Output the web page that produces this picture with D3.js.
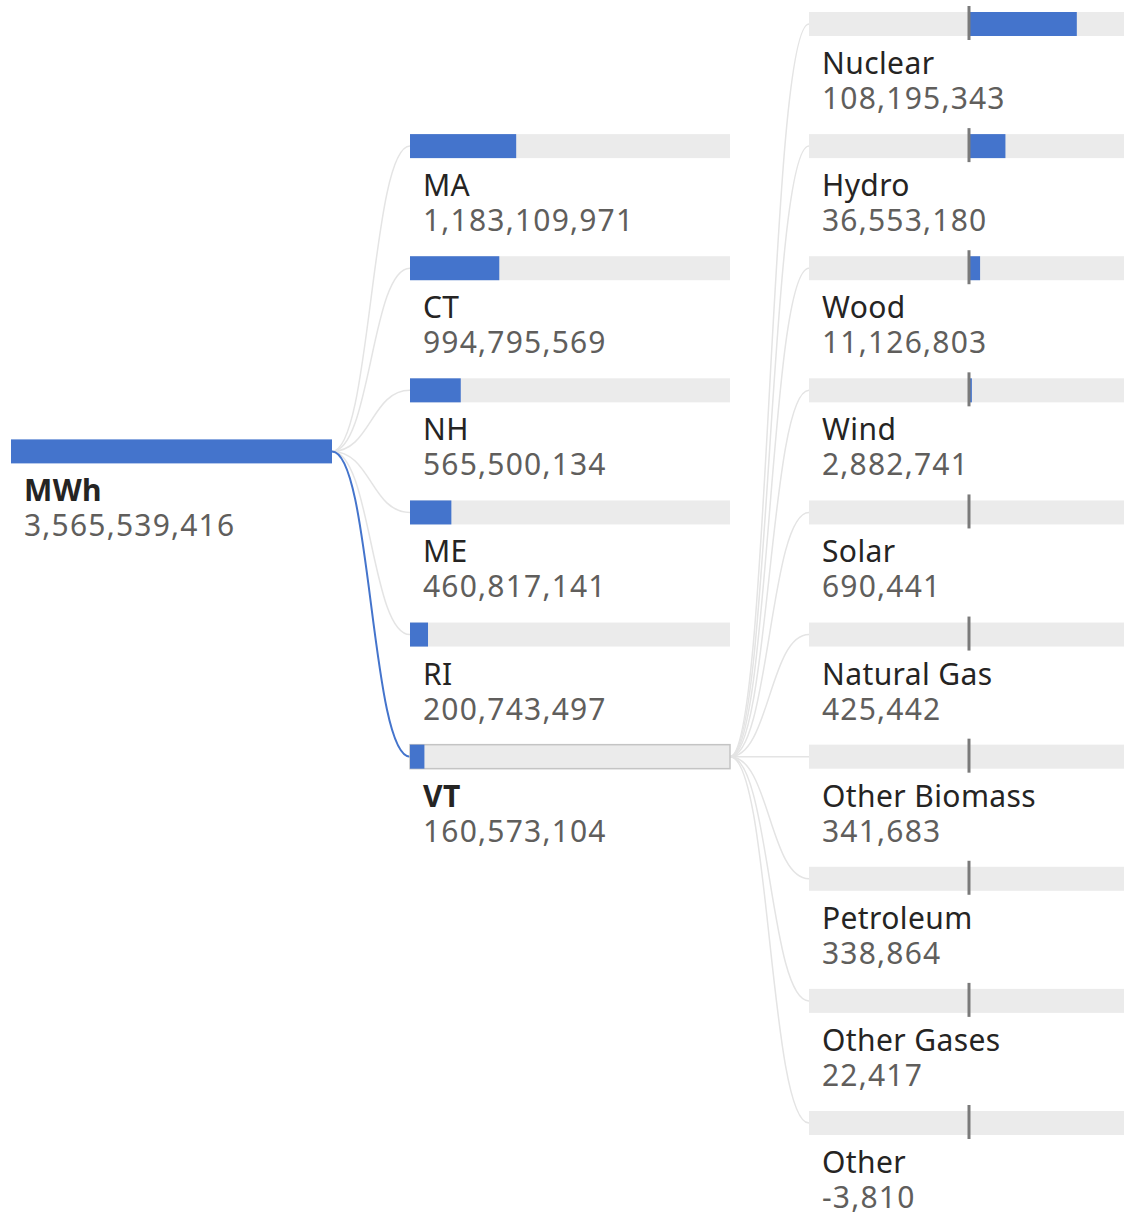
<!DOCTYPE html>
<html>
<head>
<meta charset="utf-8">
<script src="https://cdn.jsdelivr.net/npm/d3@7"></script>
<style>
  body { margin: 0; background: #fff; }
  svg { display: block; font-family: "Noto Sans", "Open Sans", sans-serif; }
</style>
</head>
<body>
<svg id="tree" width="1124" height="1216"></svg>
<script>
// root measure
const rootName = "MWh";
const rootValue = 3565539416;

// level 2 - states
const states = ["MA", "CT", "NH", "ME", "RI", "VT"];
const stateValues = [1183109971, 994795569, 565500134, 460817141, 200743497, 160573104];
const selectedState = "VT";

// level 3 - fuel type for the selected state
const fuels = ["Nuclear", "Hydro", "Wood", "Wind", "Solar", "Natural Gas",
               "Other Biomass", "Petroleum", "Other Gases", "Other"];
const fuelValues = [108195343, 36553180, 11126803, 2882741, 690441, 425442,
                    341683, 338864, 22417, -3810];

const blue = "#4474cc", track = "#ebebeb";
const barW = 320, barH = 24;
const colX = [11, 410, 809];

const fmt = d3.formatLocale({decimal: ".", thousands: ",", grouping: [3], currency: ["", ""], minus: "-"}).format(",");

var svg = d3.select("svg#tree");

// one row slot per fuel, states sit one slot lower
var rowY = d3.scaleLinear().domain([0, fuels.length - 1]).range([12, 1111]);

var stateNodes = states.map((s, i) => ({name: s, value: stateValues[i], y: rowY(i + 1)}));
var fuelNodes = fuels.map((f, i) => ({name: f, value: fuelValues[i], y: rowY(i)}));
var rootY = (stateNodes[0].y + stateNodes[stateNodes.length - 1].y) / 2;
var sel = stateNodes.find(d => d.name == selectedState);

var xState = d3.scaleLinear().domain([0, rootValue]).range([0, barW]);
var xFuel = d3.scaleLinear().domain([-sel.value, sel.value]).range([0, barW]);

var link = d3.linkHorizontal().x(d => d[0]).y(d => d[1]);

// links
var gLinks = svg.append("g").attr("fill", "none");
gLinks.selectAll("path.l2")
  .data(stateNodes.filter(d => d.name != selectedState))
  .enter()
  .append("path")
  .attr("d", d => link({source: [colX[0] + barW + 1, rootY + barH / 2], target: [colX[1], d.y + barH / 2]}))
  .attr("stroke", "#e4e4e4")
  .attr("stroke-width", 1.5);

gLinks.selectAll("path.l3")
  .data(fuelNodes)
  .enter()
  .append("path")
  .attr("d", d => link({source: [colX[1] + barW, sel.y + barH / 2], target: [colX[2], d.y + barH / 2]}))
  .attr("stroke", "#e4e4e4")
  .attr("stroke-width", 1.5);

// selected link on top
gLinks.append("path")
  .attr("d", link({source: [colX[0] + barW + 1, rootY + barH / 2], target: [colX[1], sel.y + barH / 2]}))
  .attr("stroke", blue)
  .attr("stroke-width", 2);

function labels(g, x, bold) {
  g.append("text")
    .attr("x", x + 13)
    .attr("y", d => d.y + 62)
    .attr("fill", "#252423")
    .attr("font-size", 30)
    .attr("letter-spacing", 0.4)
    .attr("font-weight", d => bold(d) ? "bold" : "normal")
    .text(d => d.name);
  g.append("text")
    .attr("x", x + 13)
    .attr("y", d => d.y + 97)
    .attr("fill", "#605e5c")
    .attr("font-size", 30)
    .attr("letter-spacing", 1.2)
    .text(d => fmt(d.value));
}

// root
var gRoot = svg.append("g").selectAll("g").data([{name: rootName, value: rootValue, y: rootY}]).enter().append("g");
gRoot.append("rect")
  .attr("x", colX[0]).attr("y", d => d.y)
  .attr("width", barW + 1).attr("height", barH)
  .attr("fill", blue);
labels(gRoot, colX[0], d => true);

// states
var gState = svg.append("g").selectAll("g").data(stateNodes).enter().append("g");
gState.append("rect")
  .attr("x", colX[1]).attr("y", d => d.y)
  .attr("width", barW).attr("height", barH)
  .attr("fill", track)
  .attr("stroke", d => d.name == selectedState ? "#c4c4c4" : "none")
  .attr("stroke-width", 1.5);
gState.append("rect")
  .attr("x", colX[1]).attr("y", d => d.y)
  .attr("width", d => xState(d.value)).attr("height", barH)
  .attr("fill", blue);
labels(gState, colX[1], d => d.name == selectedState);

// fuels
var gFuel = svg.append("g").selectAll("g").data(fuelNodes).enter().append("g");
gFuel.append("rect")
  .attr("x", colX[2]).attr("y", d => d.y)
  .attr("width", barW).attr("height", barH)
  .attr("fill", track);
gFuel.append("rect")
  .attr("x", d => colX[2] + Math.min(xFuel(0), xFuel(d.value)))
  .attr("y", d => d.y)
  .attr("width", d => Math.abs(xFuel(d.value) - xFuel(0))).attr("height", barH)
  .attr("fill", blue);
gFuel.append("line")
  .attr("x1", colX[2] + xFuel(0)).attr("x2", colX[2] + xFuel(0))
  .attr("y1", d => d.y - 6).attr("y2", d => d.y + barH + 4)
  .attr("stroke", "#7a7a7a")
  .attr("stroke-width", 3);
labels(gFuel, colX[2], d => false);
</script>
</body>
</html>
